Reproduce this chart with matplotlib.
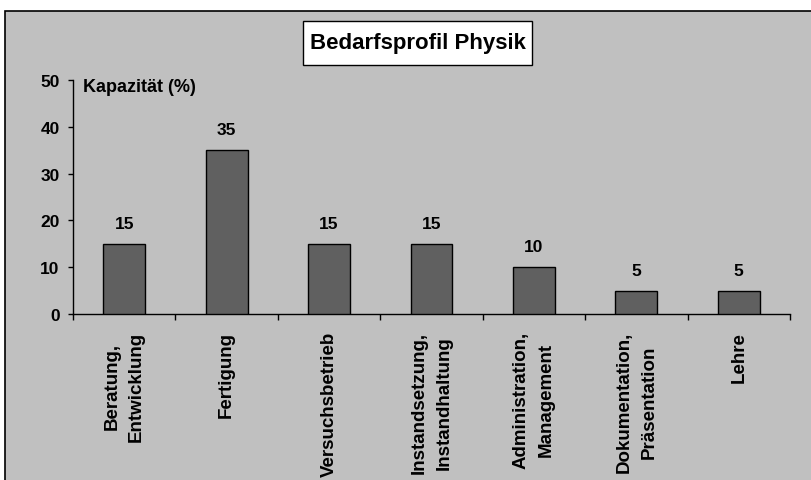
import matplotlib
matplotlib.use("Agg")
import matplotlib.pyplot as plt
from matplotlib.patches import Rectangle

# ---------------------------------------------------------------------------
# Data
# ---------------------------------------------------------------------------
categories = ["Beratung,\nEntwicklung", "Fertigung", "Versuchsbetrieb",
              "Instandsetzung,\nInstandhaltung", "Administration,\nManagement",
              "Dokumentation,\nPräsentation", "Lehre"]
values = [15, 35, 15, 15, 10, 5, 5]
y_ticks = [0, 10, 20, 30, 40, 50]

TITLE = "Bedarfsprofil Physik"
Y_LABEL = "Kapazität (%)"

BG_GRAY = "#C0C0C0"
BAR_COLOR = "#606060"
FONT = "Liberation Sans"

W, H = 811, 481
fig = plt.figure(figsize=(W / 100, H / 100), dpi=100, facecolor="white")

# gray chart area with black frame (runs off right/bottom edge)
fig.patches.append(Rectangle((5 / W, -0.05), 1.2, (H - 12) / H + 0.05,
                             transform=fig.transFigure, facecolor=BG_GRAY,
                             edgecolor="black", linewidth=1.2, zorder=-5))

ax = fig.add_axes([73 / W, (H - 315) / H, (790 - 73) / W, (315 - 81) / H])
ax.set_zorder(1)
ax.patch.set_alpha(0)

x = list(range(len(categories)))
ax.bar(x, values, width=0.41, color=BAR_COLOR, edgecolor="black",
       linewidth=1.0, zorder=3)

for xi, v in zip(x, values):
    ax.annotate(str(v), (xi, v), xytext=(0, 13), textcoords="offset pixels",
                ha="center", va="bottom", fontsize=12.5, fontweight="bold",
                family=FONT)

ax.set_xlim(-0.5, len(categories) - 0.5)
ax.set_ylim(0, 50)
ax.set_yticks(y_ticks)
ax.set_yticklabels([str(t) for t in y_ticks], fontsize=12.5,
                   fontweight="bold", family=FONT)

# category labels at centres, tick marks at category boundaries
ax.set_xticks(x)
ax.set_xticklabels(categories, rotation=90, fontsize=13.5, fontweight="bold",
                   family=FONT, linespacing=1.6, ha="center", va="top",
                   multialignment="center")
ax.tick_params(axis="x", which="major", length=0, pad=12)
ax.set_xticks([i - 0.5 for i in range(len(categories) + 1)], minor=True)
ax.tick_params(axis="x", which="minor", length=4.5, width=1, direction="out")
ax.tick_params(axis="y", length=3.6, width=1, pad=6)

for s in ["top", "right"]:
    ax.spines[s].set_visible(False)
for s in ["left", "bottom"]:
    ax.spines[s].set_linewidth(1.0)

fig.text(83 / W, (H - 88) / H, Y_LABEL, ha="left", va="center",
         fontsize=13, fontweight="bold", family=FONT, zorder=3)

# title box
fig.patches.append(Rectangle((303 / W, (H - 66) / H), (532 - 303) / W,
                             (66 - 22) / H, transform=fig.transFigure,
                             facecolor="white", edgecolor="black",
                             linewidth=1.0, zorder=2))
fig.text(418 / W, (H - 44) / H, TITLE, ha="center", va="center",
         fontsize=16, fontweight="bold", family=FONT, zorder=3)

fig.savefig("out.png", dpi=100, facecolor="white")
